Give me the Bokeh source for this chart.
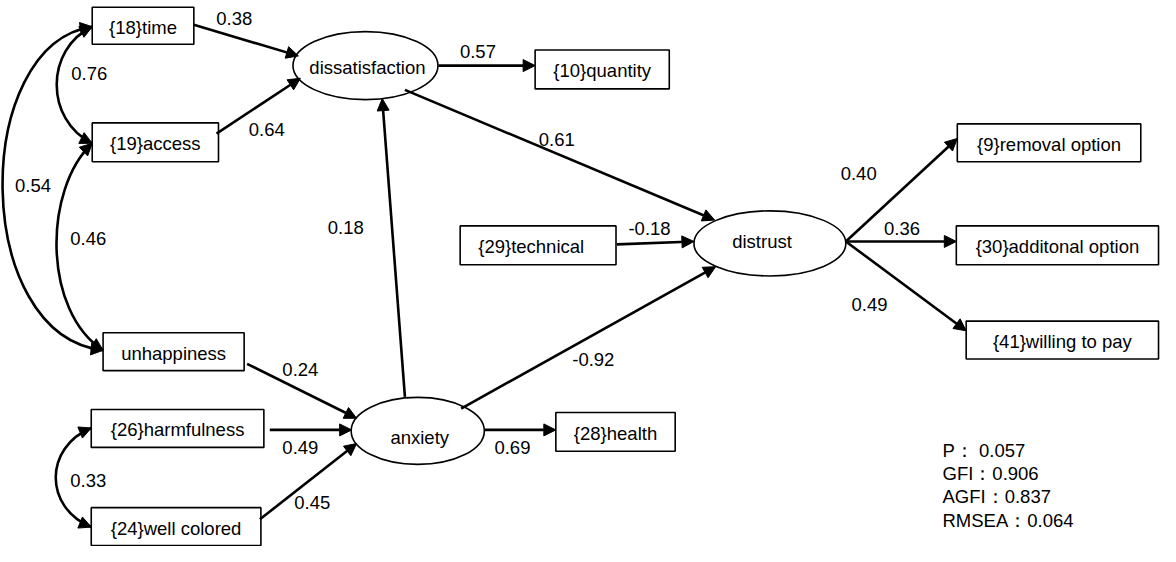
from bokeh.plotting import figure
from bokeh.models import Range1d, Arrow, NormalHead
from bokeh.core.properties import value
from bokeh.embed import file_html
from bokeh.resources import INLINE

# ---------------- data ----------------
observed = ["{18}time", "{19}access", "unhappiness", "{26}harmfulness", "{24}well colored",
            "{10}quantity", "{29}technical", "{28}health",
            "{9}removal option", "{30}additonal option", "{41}willing to pay"]
latent = ["dissatisfaction", "anxiety", "distrust"]

path_from = ["{18}time", "{19}access", "dissatisfaction", "dissatisfaction", "anxiety",
             "anxiety", "anxiety", "unhappiness", "{26}harmfulness", "{24}well colored",
             "{29}technical", "distrust", "distrust", "distrust"]
path_to = ["dissatisfaction", "dissatisfaction", "{10}quantity", "distrust", "dissatisfaction",
           "distrust", "{28}health", "anxiety", "anxiety", "anxiety",
           "distrust", "{9}removal option", "{30}additonal option", "{41}willing to pay"]
path_coef = ["0.38", "0.64", "0.57", "0.61", "0.18",
             "-0.92", "0.69", "0.24", "0.49", "0.45",
             "-0.18", "0.40", "0.36", "0.49"]

cov_a = ["{18}time", "{19}access", "{18}time", "{26}harmfulness"]
cov_b = ["{19}access", "unhappiness", "unhappiness", "{24}well colored"]
cov_coef = ["0.76", "0.46", "0.54", "0.33"]

fit_names = ["P", "GFI", "AGFI", "RMSEA"]
fit_values = ["0.057", "0.906", "0.837", "0.064"]

# ---------------- layout (pixel positions of the diagram) ----------------
box_pos = {  # left, top, right, bottom
    "{18}time": (93, 7, 196, 45),
    "{19}access": (93, 126, 221, 166),
    "unhappiness": (104, 342, 247, 381),
    "{26}harmfulness": (92, 421, 267, 460),
    "{24}well colored": (92, 522, 264, 561),
    "{10}quantity": (542, 51, 678, 91),
    "{29}technical": (466, 232, 624, 272),
    "{28}health": (563, 424, 684, 464),
    "{9}removal option": (970, 127, 1156, 166),
    "{30}additonal option": (969, 232, 1174, 272),
    "{41}willing to pay": (979, 330, 1174, 369),
}
box_label_dx = {"{29}technical": -7}
ell_pos = {  # cx, cy, w, h, label x, label baseline
    "dissatisfaction": (370, 67, 147, 70, 372, 76),
    "anxiety": (423, 443, 135, 69, 425, 457),
    "distrust": (780, 250, 154, 67, 772, 255),
}
path_geom = {  # (x_start, y_start, x_end, y_end), label (x, baseline)
    0: ((196, 25, 302, 57), (237, 26)),
    1: ((219, 137, 304, 80), (270, 140)),
    2: ((444, 67, 542, 67), (484, 60)),
    3: ((410, 92, 724, 226), (564, 150)),
    4: ((410, 408, 387, 101), (350, 241)),
    5: ((467, 420, 725, 274), (601, 377)),
    6: ((491, 442, 563, 442), (519, 467)),
    7: ((250, 374, 361, 430), (304, 387)),
    8: ((273, 442, 356, 442), (304, 467)),
    9: ((263, 534, 361, 456), (316, 524)),
    10: ((625, 251, 703, 248), (658, 242)),
    11: ((857, 248, 970, 142), (870, 185)),
    12: ((857, 248, 969, 248), (914, 242)),
    13: ((857, 248, 979, 340), (881, 320)),
}
cov_geom = {  # P0, C0, C1, P3, label (x, baseline)
    0: ((93, 27), (45, 50), (45, 123), (93, 147), (90, 82)),
    1: ((93, 147), (43, 195), (43, 320), (104, 360), (89, 252)),
    2: ((93, 27), (-30, 45), (-30, 345), (104, 360), (33, 197)),
    3: ((92, 440), (44, 460), (44, 522), (92, 542), (89, 501)),
}
fit_pos = (955, 470, 24)

FONT = value("Liberation Sans")
FS = "18.5px"
TDY = -7  # baseline correction for svg text rendering

p = figure(width=1160, height=546, x_range=Range1d(0, 1176), y_range=Range1d(562, 0),
           output_backend="svg", toolbar_location=None, min_border=0)
p.axis.visible = False
p.grid.visible = False
p.outline_line_color = None
p.background_fill_color = "white"
p.border_fill_color = "white"

# boxes
p.quad(left=[box_pos[n][0] for n in observed], right=[box_pos[n][2] for n in observed],
       top=[box_pos[n][1] for n in observed], bottom=[box_pos[n][3] for n in observed],
       fill_color="white", line_color="black", line_width=1.6)
p.text(x=[(box_pos[n][0] + box_pos[n][2]) / 2 + box_label_dx.get(n, 0) for n in observed],
       y=[(box_pos[n][1] + box_pos[n][3]) / 2 + 8.5 + TDY for n in observed],
       text=observed, text_align="center", text_baseline="alphabetic",
       text_font=FONT, text_font_size=FS, text_color="black")

# ellipses
p.ellipse(x=[ell_pos[n][0] for n in latent], y=[ell_pos[n][1] for n in latent],
          width=[ell_pos[n][2] for n in latent], height=[ell_pos[n][3] for n in latent],
          fill_color="white", line_color="black", line_width=1.6)
p.text(x=[ell_pos[n][4] for n in latent], y=[ell_pos[n][5] + TDY for n in latent],
       text=latent, text_align="center", text_baseline="alphabetic",
       text_font=FONT, text_font_size=FS, text_color="black")

# path arrows
for i, coef in enumerate(path_coef):
    (xs, ys, xe, ye), (lx, ly) = path_geom[i]
    p.add_layout(Arrow(end=NormalHead(size=12, fill_color="black", line_color="black", line_width=1),
                       x_start=xs, y_start=ys, x_end=xe, y_end=ye,
                       line_color="black", line_width=2.6))
p.text(x=[path_geom[i][1][0] for i in range(len(path_coef))],
       y=[path_geom[i][1][1] + TDY for i in range(len(path_coef))],
       text=path_coef, text_align="center", text_baseline="alphabetic",
       text_font=FONT, text_font_size=FS, text_color="black")

# covariance curves
for i, coef in enumerate(cov_coef):
    P0, C0, C1, P3, _ = cov_geom[i]
    p.bezier(x0=[P0[0]], y0=[P0[1]], x1=[P3[0]], y1=[P3[1]],
             cx0=[C0[0]], cy0=[C0[1]], cx1=[C1[0]], cy1=[C1[1]],
             line_color="black", line_width=2.6)
    for tip, ctrl in ((P0, C0), (P3, C1)):
        dx, dy = tip[0] - ctrl[0], tip[1] - ctrl[1]
        d = (dx * dx + dy * dy) ** 0.5
        p.add_layout(Arrow(end=NormalHead(size=12, fill_color="black", line_color="black", line_width=1),
                           x_start=tip[0] - dx / d * 3, y_start=tip[1] - dy / d * 3,
                           x_end=tip[0], y_end=tip[1], line_color="black", line_width=2.6))
p.text(x=[cov_geom[i][4][0] for i in range(len(cov_coef))],
       y=[cov_geom[i][4][1] + TDY for i in range(len(cov_coef))],
       text=cov_coef, text_align="center", text_baseline="alphabetic",
       text_font=FONT, text_font_size=FS, text_color="black")

# fit statistics
fit_text = [f"{n}：{' ' if n == 'P' else ''}{v}" for n, v in zip(fit_names, fit_values)]
p.text(x=[fit_pos[0]] * len(fit_text),
       y=[fit_pos[1] + k * fit_pos[2] + TDY for k in range(len(fit_text))],
       text=fit_text, text_align="left", text_baseline="alphabetic",
       text_font=FONT, text_font_size=FS, text_color="black")

open("out.html", "w").write(file_html(p, INLINE))
